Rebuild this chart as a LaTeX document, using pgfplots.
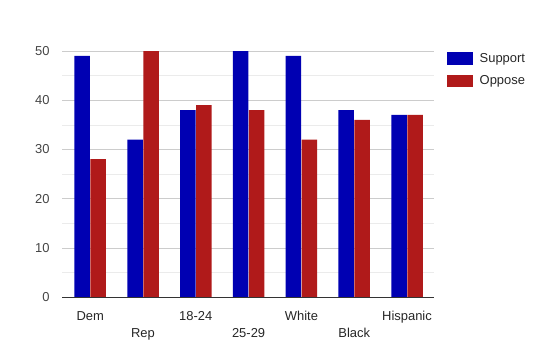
\documentclass[border=0pt]{standalone}
\usepackage{pgfplots}
\pgfplotsset{compat=1.18}
\usepackage{fontspec}
\setmainfont{Liberation Sans}
\definecolor{sup}{RGB}{0,0,178}
\definecolor{opp}{RGB}{176,26,26}
\definecolor{txt}{RGB}{68,68,68}
\begin{document}
\begin{tikzpicture}
\path[use as bounding box] (0bp,0bp) rectangle (549bp,361bp);
\begin{axis}[
  at={(62bp,64bp)}, anchor=south west,
  scale only axis, width=372bp, height=246bp,
  xmin=-0.534, xmax=6.511, ymin=0, ymax=50,
  ybar, bar width=15.5bp,
  axis x line*=bottom, axis y line*=left,
  y axis line style={draw=none},
  x axis line style={-, draw=black!80},
  tick style={draw=none},
  xtick={0,...,6},
  xticklabels={{\strut Dem},{\strut\raisebox{-17bp}{Rep}},{\strut 18-24},{\strut\raisebox{-17bp}{25-29}},{\strut White},{\strut\raisebox{-17bp}{Black}},{\strut Hispanic}},
  xticklabel style={text=black!85, font=\fontsize{13}{15}\selectfont, yshift=-5bp},
  ytick={0,10,...,50}, minor ytick={5,15,...,45},
  ymajorgrids, yminorgrids,
  major grid style={draw=black!20},
  minor grid style={draw=black!8},
  /pgf/number format/assume math mode=true,
  yticklabel style={text=txt, font=\fontsize{13}{15}\selectfont, xshift=-9bp},
  legend style={draw=none, fill=none, at={(rel axis cs:1,1)}, anchor=north west,
    xshift=13bp, yshift=0bp, inner sep=0pt, row sep=8bp,
    font=\fontsize{13}{15}\selectfont, text=black!85,
    /tikz/every odd column/.append style={column sep=5bp}},
  legend cell align=left,
  legend image code/.code={\fill[#1] (0bp,-6.3bp) rectangle (25.5bp,6.3bp);},
]
\addplot[fill=sup, draw=none, bar shift=-8bp] coordinates {(0,49) (1,32) (2,38) (3,50) (4,49) (5,38) (6,37)};
\addplot[fill=opp, draw=none, bar shift=8bp] coordinates {(0,28) (1,50) (2,39) (3,38) (4,32) (5,36) (6,37)};
\legend{Support, Oppose}
\end{axis}
\end{tikzpicture}
\end{document}
